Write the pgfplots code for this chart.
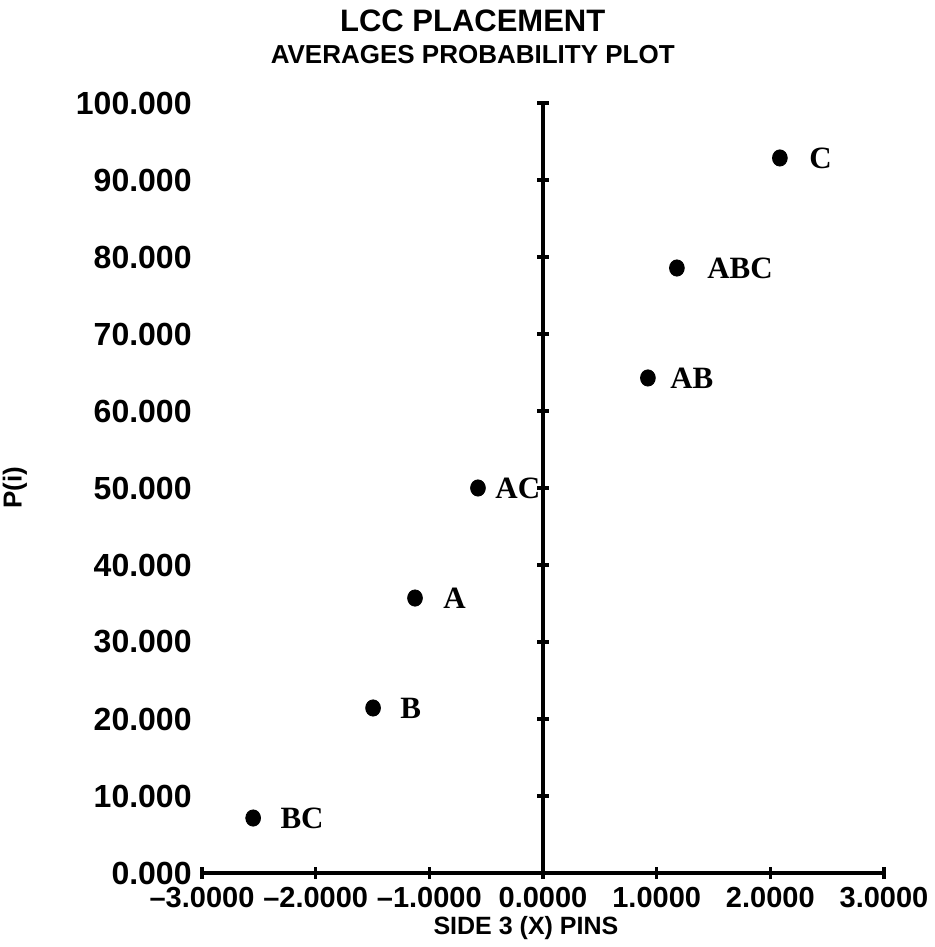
\documentclass[border=0pt]{standalone}
\usepackage{fontspec}
\setmainfont{Liberation Sans}
\newfontfamily\serifb{Liberation Serif}
\usepackage{pgfplots}
\pgfplotsset{compat=1.18}
\usepackage{pgfplotstable}

\pgfplotstableread{
x y label dx
-2.55 7.14 BC 13.5
-1.495 21.43 B 13.5
-1.126 35.71 A 14
-0.572 50.00 AC 8.5
0.923 64.29 AB 11
1.178 78.57 ABC 15
2.084 92.86 C 14.5
}\datatable

\begin{document}
\begin{tikzpicture}
\begin{axis}[
  scale only axis, width=341pt, height=385pt,
  xmin=-3, xmax=3, ymin=0, ymax=100,
  axis lines*=middle,
  clip=false,
  hide obscured x ticks=false, hide obscured y ticks=false,
  axis line style={line width=1.6pt, black},
  tick style={line width=1.6pt, black},
  major tick length=6pt, tick align=center,
  xtick={-3,-2,-1,0,1,2,3},
  ytick={0,10,20,30,40,50,60,70,80,90,100},
  xticklabels={--3.0000,--2.0000,--1.0000,0.0000,1.0000,2.0000,3.0000},
  yticklabels={0.000,10.000,20.000,30.000,40.000,50.000,60.000,70.000,80.000,90.000,100.000},
  xticklabel style={font=\fontsize{14.5}{16}\selectfont\bfseries, anchor=north, inner sep=0pt, yshift=-4pt},
  yticklabel style={font=\fontsize{16}{18}\selectfont\bfseries, anchor=east, inner sep=0pt, xshift=-172.5pt},
  xlabel={SIDE 3 (X) PINS},
  xlabel style={at={(rel axis cs:0.475,-0.0714)}, anchor=center, font=\fontsize{12.5}{14}\selectfont\bfseries},
  ylabel={P(i)},
  ylabel style={at={(rel axis cs:-0.2742,0.5)}, anchor=center, font=\fontsize{13}{15}\selectfont\bfseries},
  title={{\fontsize{15.5}{16.5}\selectfont LCC PLACEMENT}\\AVERAGES PROBABILITY PLOT},
  title style={at={(rel axis cs:0.397,1.026)}, anchor=south, align=center, font=\fontsize{13}{16}\selectfont\bfseries},
]
\addplot[only marks, mark=*, mark size=3.7pt, mark options={fill=black, draw=black, yscale=1.1},
  nodes near coords, point meta=explicit symbolic,
  visualization depends on={\thisrow{dx} \as \dx},
  nodes near coords style={anchor=west, inner sep=0pt, xshift=\dx pt, yshift=0pt, font=\serifb\fontsize{15.5}{17}\selectfont\bfseries}]
  table[x=x, y=y, meta=label] {\datatable};
\coordinate (bl) at (rel axis cs:0,0);
\coordinate (tr) at (rel axis cs:1,1);
\end{axis}
\pgfresetboundingbox
\path[use as bounding box] ([shift={(-101pt,-37pt)}]bl) rectangle ([shift={(25.5pt,51.5pt)}]tr);
\end{tikzpicture}
\end{document}
